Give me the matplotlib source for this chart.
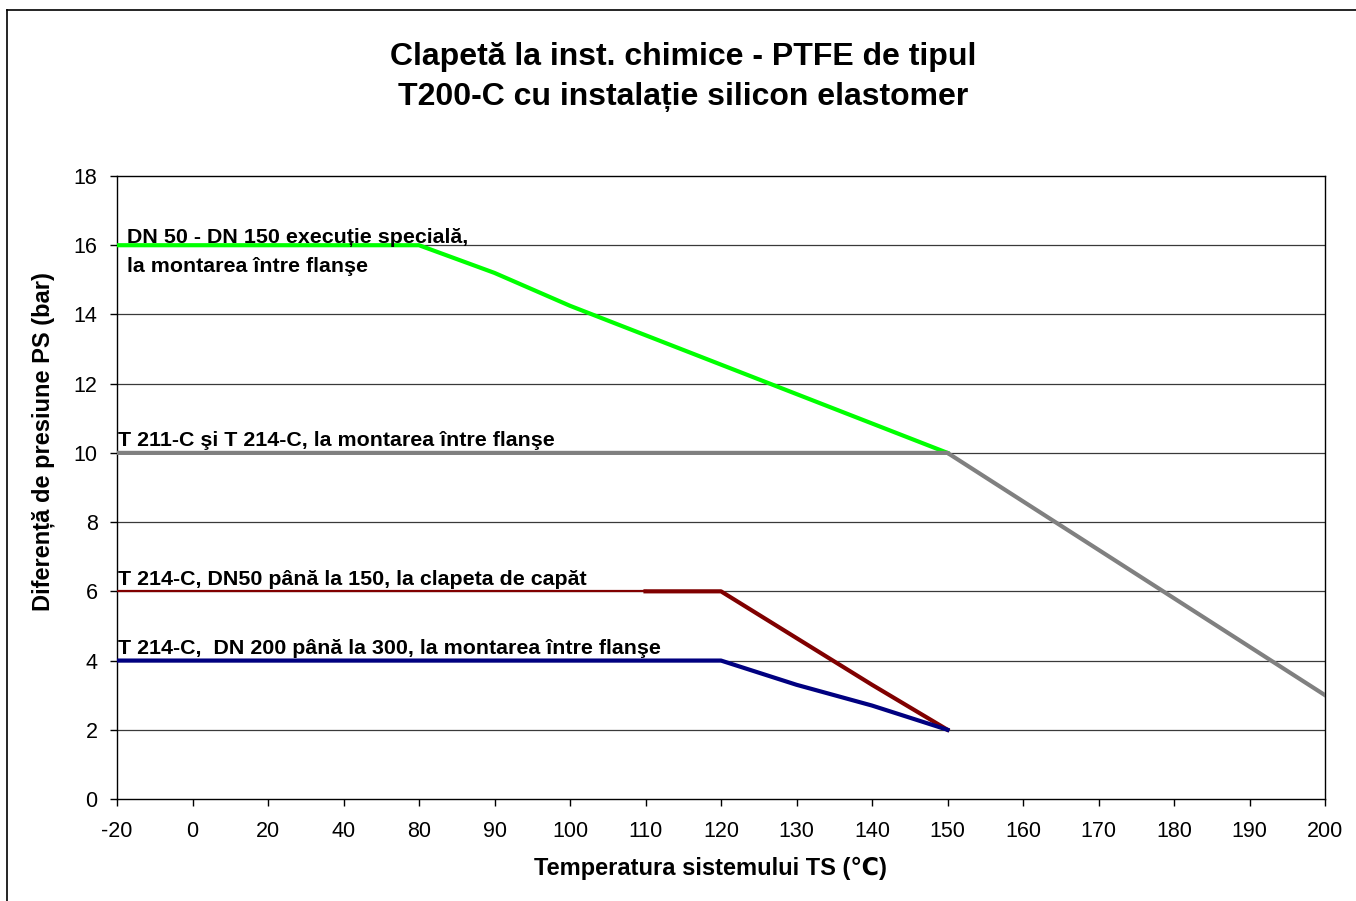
import matplotlib
matplotlib.use("Agg")
from matplotlib import pyplot as plt
from matplotlib.lines import Line2D

plt.rcParams['font.family'] = ['Liberation Sans', 'DejaVu Sans']

# categories on the x axis (Excel style category axis)
temps = [-20, 0, 20, 40, 80, 90, 100, 110, 120, 130, 140, 150, 160, 170, 180, 190, 200]

# series values, one per category (as long as the series goes)
green_vals = [16, 16, 16, 16, 16, 15.2, 14.25, 13.4, 12.55, 11.7, 10.85, 10]
gray_vals = [10, 10, 10, 10, 10, 10, 10, 10, 10, 10, 10, 10, 8.6, 7.2, 5.8, 4.4, 3.0]
red_vals = [6, 6, 6, 6, 6, 6, 6, 6, 6, 4.65, 3.3, 2]
blue_vals = [4, 4, 4, 4, 4, 4, 4, 4, 4, 3.3, 2.7, 2]

green_label = ["DN 50 - DN 150 execuție specială,", "la montarea între flanşe"]
gray_label = "T 211-C şi T 214-C, la montarea între flanşe"
red_label = "T 214-C, DN50 până la 150, la clapeta de capăt"
blue_label = "T 214-C,  DN 200 până la 300, la montarea între flanşe"

title_lines = ["Clapetă la inst. chimice - PTFE de tipul", "T200-C cu instalație silicon elastomer"]

fig = plt.figure(figsize=(13.56, 9.01), dpi=100)
ax = fig.add_axes([117 / 1356, 1 - 799 / 901, 1208 / 1356, 623 / 901])

# horizontal gridlines
for v in range(2, 18, 2):
    ax.axhline(v, color="#3a3a3a", lw=0.9, zorder=1)

ax.plot(range(len(green_vals)), green_vals, color="#00ff00", lw=3.0, zorder=3)
ax.plot(range(len(gray_vals)), gray_vals, color="#808080", lw=3.0, zorder=4)
# red: thin part along the flat section, then thick
ax.plot(range(8), red_vals[:8], color="#800000", lw=1.6, zorder=5)
ax.plot(range(7, len(red_vals)), red_vals[7:], color="#800000", lw=3.0, zorder=5)
ax.plot(range(len(blue_vals)), blue_vals, color="#000080", lw=3.0, zorder=6)

ax.set_xlim(0, len(temps) - 1)
ax.set_ylim(0, 18)
ax.set_xticks(range(len(temps)))
ax.set_xticklabels([str(t) for t in temps])
ax.set_yticks(range(0, 19, 2))
ax.tick_params(axis="both", direction="out", length=5, width=1, labelsize=15.5, colors="black")
ax.tick_params(axis="y", pad=9)
ax.tick_params(axis="x", pad=11)
for s in ax.spines.values():
    s.set_color("black")
    s.set_linewidth(1)

# series annotations
fs = 15.4
ax.annotate(green_label[0], (0, green_vals[0]), xytext=(7, 1.5), textcoords="offset points",
            fontsize=fs, fontweight="bold", va="baseline")
ax.annotate(green_label[1], (0, green_vals[0]), xytext=(7, -19.5), textcoords="offset points",
            fontsize=fs, fontweight="bold", va="baseline")
ax.annotate(gray_label, (0, gray_vals[0]), xytext=(1, 5), textcoords="offset points",
            fontsize=fs, fontweight="bold", va="baseline")
ax.annotate(red_label, (0, red_vals[0]), xytext=(1, 4.5), textcoords="offset points",
            fontsize=fs, fontweight="bold", va="baseline")
ax.annotate(blue_label, (0, blue_vals[0]), xytext=(1, 4.5), textcoords="offset points",
            fontsize=fs, fontweight="bold", va="baseline")

ax.set_xlabel("Temperatura sistemului TS (℃)", fontsize=17, fontweight="bold")
ax.xaxis.set_label_coords((710 - 117) / 1208, -(868 - 799) / 623)
ax.xaxis.label.set_va("center")
ax.set_ylabel("Diferență de presiune PS (bar)", fontsize=17, fontweight="bold")
ax.yaxis.set_label_coords(-(117 - 43) / 1208, (799 - 442) / 623)
ax.yaxis.label.set_va("center")

fig.text(683 / 1356, 1 - 57 / 901, title_lines[0], ha="center", va="center", fontsize=23, fontweight="bold")
fig.text(683 / 1356, 1 - 97 / 901, title_lines[1], ha="center", va="center", fontsize=23, fontweight="bold")

# outer chart border (top and left edges visible)
fig.add_artist(Line2D([7 / 1356, 7 / 1356], [0, 1 - 10 / 901], transform=fig.transFigure, color="black", lw=1.2))
fig.add_artist(Line2D([7 / 1356, 1], [1 - 10 / 901, 1 - 10 / 901], transform=fig.transFigure, color="black", lw=1.2))

fig.savefig("out.png", dpi=100)
